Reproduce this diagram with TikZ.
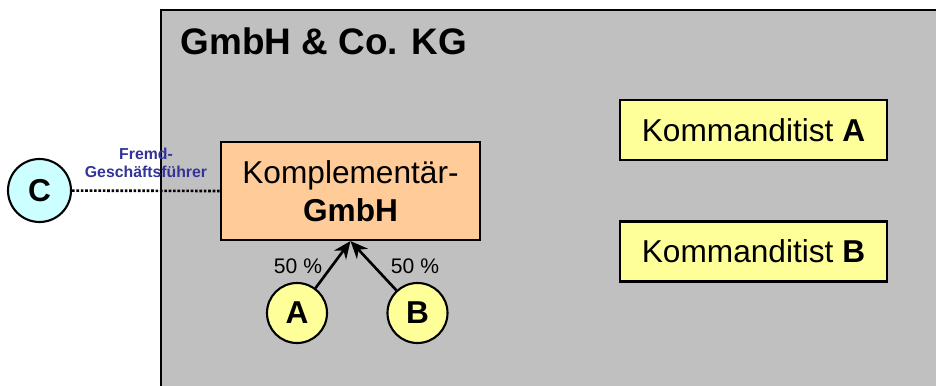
\documentclass[tikz,border=0pt]{standalone}
\usepackage{fontspec}
\setmainfont{Liberation Sans}
\usepackage{tikz}
\usetikzlibrary{arrows.meta}
\definecolor{KG}{RGB}{192,192,192}
\definecolor{GmbH}{RGB}{255,204,153}
\definecolor{Kdt}{RGB}{255,255,153}
\definecolor{GF}{RGB}{204,255,255}
\definecolor{GFtext}{RGB}{51,51,153}
\newcommand{\bigtext}{\fontsize{18}{21.5}\selectfont}
\tikzset{
  box/.style={draw, line width=1.2pt, font=\bigtext, align=center, inner sep=0pt},
  person/.style={draw, circle, line width=1.2pt, minimum size=1.2cm, inner sep=0pt, font=\bigtext\bfseries},
  share/.style={-{Stealth[length=3.5mm,width=3mm]}, line width=1.5pt},
}
\begin{document}
\begin{tikzpicture}
\useasboundingbox (0,0) rectangle (18.72,7.7);
\clip (0,0) rectangle (18.72,7.7);
% the KG itself
\draw[fill=KG, line width=1.6pt] (3.22,-1)--(3.22,7.5)--(20,7.5)--(20,-1);
\node[anchor=base west, font=\fontsize{21}{25}\selectfont\bfseries] (kg) at (3.49,6.6) {GmbH \& Co. KG};
% general partner and limited partners
\node[box, fill=GmbH, minimum width=5.18cm, minimum height=1.96cm] (komp) at (7.01,3.88) {Komplementär-\\\textbf{GmbH}};
\node[box, fill=Kdt, minimum width=5.34cm, minimum height=1.2cm] (kdtA) at (15.07,5.1) {Kommanditist \textbf{A}};
\node[box, fill=Kdt, minimum width=5.34cm, minimum height=1.2cm] (kdtB) at (15.07,2.67) {Kommanditist \textbf{B}};
% shareholders of the GmbH
\node[person, fill=Kdt] (A) at (5.94,1.44) {A};
\node[person, fill=Kdt] (B) at (8.35,1.44) {B};
\draw[share] (A) -- (komp.south);
\draw[share] (B) -- (komp.south);
\node[font=\fontsize{12}{14}\selectfont] (pA) at (5.96,2.38) {50 \%};
\node[font=\fontsize{12}{14}\selectfont] (pB) at (8.3,2.38) {50 \%};
% outside managing director
\node[person, fill=GF, minimum size=1.26cm] (C) at (0.79,3.89) {C};
\draw[line width=1.5pt, densely dotted] (C) -- (komp.west);
\node[font=\fontsize{9}{10.5}\selectfont\bfseries, text=GFtext, align=center] (gf) at (2.92,4.44) {Fremd-\\Geschäftsführer};
\end{tikzpicture}
\end{document}
